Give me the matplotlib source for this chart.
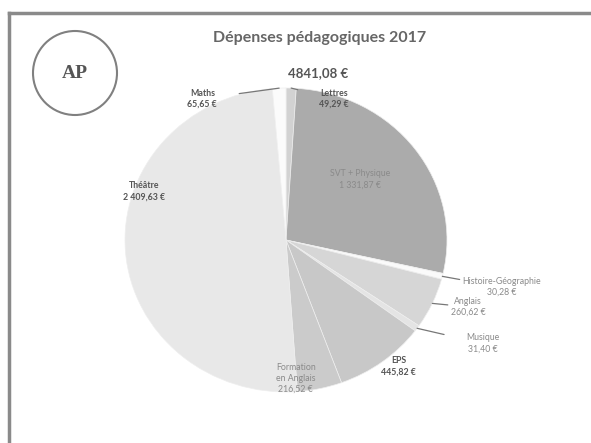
import matplotlib.pyplot as plt
import matplotlib.patches as mpatches
import numpy as np

plt.rcParams['font.family'] = ['Lato', 'DejaVu Sans']

# slices, clockwise from 12 o'clock
labels = ['Lettres', 'SVT + Physique', 'Histoire-Géographie', 'Anglais', 'Musique',
          'EPS', 'Formation\nen Anglais', 'Théâtre', 'Maths']
values = [49.29, 1331.87, 30.28, 260.62, 31.40, 445.82, 216.52, 2409.63, 65.65]
colors = ['#d2d2d2', '#ababab', '#fafafa', '#d6d6d6', '#e4e4e4',
          '#c8c8c8', '#cbcbcb', '#e8e8e8', '#fbfbfb']

# label placement (pie radius = 1) and style
label_pos = [(0.30, 0.93), (0.46, 0.40), (1.34, -0.31), (1.13, -0.44), (1.22, -0.68),
             (0.70, -0.83), (0.06, -0.91), (-0.88, 0.32), (-0.52, 0.93)]
label_bold = [True, False, False, False, False, True, False, True, True]
label_leader = [True, False, True, True, True, False, False, False, True]
label_color = ['#555555', '#8a8a8a', '#8a8a8a', '#8a8a8a', '#8a8a8a',
               '#555555', '#8a8a8a', '#555555', '#555555']


def euro(v):
    s = f'{v:,.2f}'.replace(',', ' ').replace('.', ',')
    return s + ' €'


fig = plt.figure(figsize=(5.91, 4.43), dpi=100)
ax = fig.add_axes([0, 0, 1, 1])
cx, cy, rx, ry = 286, 240, 161, 152

wedges, _ = ax.pie(values, colors=colors, startangle=90, counterclock=False, radius=1,
                   wedgeprops=dict(edgecolor='#eeeeee', linewidth=0.5))
ax.set_aspect('auto')
ax.set_xlim(-cx / rx, (591 - cx) / rx)
ax.set_ylim(-(443 - cy) / ry, cy / ry)
ax.axis('off')

for i, w in enumerate(wedges):
    mid = np.deg2rad((w.theta1 + w.theta2) / 2)
    tx, ty = label_pos[i]
    txt = labels[i] + '\n' + euro(values[i])
    kw = dict(ha='center', va='center', fontsize=6.3, color=label_color[i],
              fontweight='bold' if label_bold[i] else 'normal', linespacing=1.3)
    if label_leader[i]:
        ex, ey = 1.0 * np.cos(mid), 1.0 * np.sin(mid)
        ax.annotate(txt, xy=(ex, ey), xytext=(tx, ty),
                    arrowprops=dict(arrowstyle='-', color='#777777', lw=0.9,
                                    shrinkA=14, shrinkB=0), **kw)
    else:
        ax.text(tx, ty, txt, **kw)

total = sum(values)
ax.text(0.20, 1.10, f'{total:.2f}'.replace('.', ',') + ' €',
        ha='center', va='center', fontsize=9.5, fontweight='bold', color='#555555')

fig.text(0.54, 0.915, 'Dépenses pédagogiques 2017', ha='center', va='center',
         fontsize=11.5, fontweight='bold', color='#666666')

# frame (cut by page edges) and AP stamp
fig.add_artist(plt.Line2D([9 / 591, 9 / 591], [0, 1 - 13 / 443], color='#8a8a8a', lw=2.5))
fig.add_artist(plt.Line2D([9 / 591, 1], [1 - 13 / 443, 1 - 13 / 443], color='#8a8a8a', lw=2.5))
circ = mpatches.Ellipse((75 / 591, 1 - 73 / 443), 84 / 591, 84 / 443, transform=fig.transFigure,
                        fill=False, edgecolor='#808080', lw=1.5)
fig.add_artist(circ)
fig.text(75 / 591, 1 - 73 / 443, 'AP', ha='center', va='center', fontsize=14,
         fontweight='bold', color='#555555', family=['Liberation Serif', 'DejaVu Serif'])

fig.savefig('out.png', dpi=100)
